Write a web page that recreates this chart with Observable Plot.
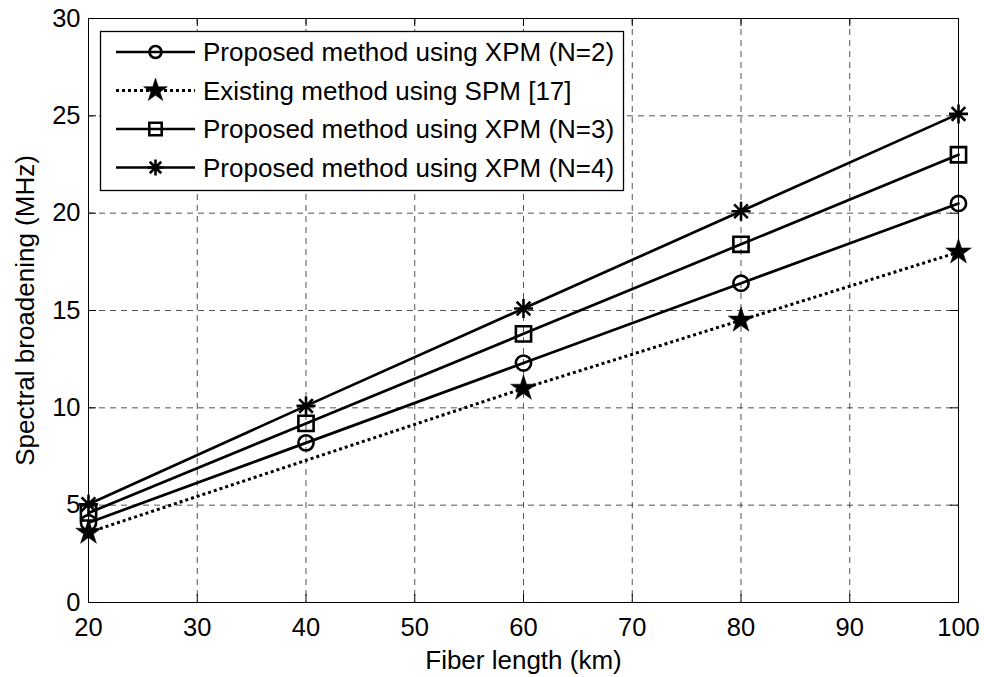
<!DOCTYPE html>
<html><head><meta charset="utf-8">
<script src="https://cdn.jsdelivr.net/npm/d3@7"></script>
<script src="https://cdn.jsdelivr.net/npm/@observablehq/plot@0.6"></script>
<style>html,body{margin:0;padding:0;background:#fff;} #chart{width:984px;height:677px;}</style>
</head><body><div id="chart"></div>
<script>
// ---- data ----
const fiberLength = [20, 40, 60, 80, 100];
const xpmN2 = [4.1, 8.2, 12.3, 16.4, 20.5];
const spmLength = [20, 60, 80, 100];
const spm = [3.6, 11.0, 14.5, 18.0];
const xpmN3 = [4.6, 9.2, 13.8, 18.4, 23.0];
const xpmN4 = [5.05, 10.1, 15.1, 20.1, 25.1];
const seriesNames = [
  "Proposed method using XPM (N=2)",
  "Existing method using SPM [17]",
  "Proposed method using XPM (N=3)",
  "Proposed method using XPM (N=4)"
];
const xTicks = [20, 30, 40, 50, 60, 70, 80, 90, 100];
const yTicks = [0, 5, 10, 15, 20, 25, 30];
const xLabel = "Fiber length (km)";
const yLabel = "Spectral broadening (MHz)";

// ---- marker symbols (MATLAB style) ----
const rad = size => Math.sqrt(size / Math.PI);
const symCircle = {draw(ctx, size){ const r = rad(size); ctx.moveTo(r, 0); ctx.arc(0, 0, r, 0, 2*Math.PI); }};
const symSquare = {draw(ctx, size){ const r = rad(size); ctx.rect(-r, -r, 2*r, 2*r); }};
const symStar = {draw(ctx, size){
  const R = rad(size), ri = R * 0.382;
  for (let i = 0; i < 10; i++) {
    const a = -Math.PI/2 + i*Math.PI/5, rr = i % 2 ? ri : R;
    const px = rr*Math.cos(a), py = rr*Math.sin(a);
    if (i) ctx.lineTo(px, py); else ctx.moveTo(px, py);
  }
  ctx.closePath();
}};
const symAsterisk = {draw(ctx, size){
  const R = rad(size), d = R*0.72;
  ctx.moveTo(-R, 0); ctx.lineTo(R, 0);
  ctx.moveTo(0, -R); ctx.lineTo(0, R);
  ctx.moveTo(-d, -d); ctx.lineTo(d, d);
  ctx.moveTo(-d, d); ctx.lineTo(d, -d);
}};

const toRows = (xs, ys) => xs.map((x, i) => ({x, y: ys[i]}));
const dN2 = toRows(fiberLength, xpmN2);
const dSPM = toRows(spmLength, spm);
const dN3 = toRows(fiberLength, xpmN3);
const dN4 = toRows(fiberLength, xpmN4);

const FONT = "'Liberation Sans', Arial, Helvetica, sans-serif";
const LW = 2.7;
const MW = 2.6;
const FS = 26;

const plot = Plot.plot({
  width: 984, height: 677,
  marginLeft: 88, marginRight: 26, marginTop: 18, marginBottom: 75,
  style: {fontFamily: FONT, background: "white", color: "black"},
  x: {domain: [20, 100]},
  y: {domain: [0, 30]},
  marks: [
    Plot.gridX(xTicks, {stroke: "#000", strokeOpacity: 0.85, strokeWidth: 0.8, strokeDasharray: "6,5"}),
    Plot.gridY(yTicks, {stroke: "#000", strokeOpacity: 0.85, strokeWidth: 0.8, strokeDasharray: "6,5"}),
    // inner ticks on all four sides
    Plot.tickX(xTicks, {x: d => d, stroke: "#000", insetTop: 576}),
    Plot.tickX(xTicks, {x: d => d, stroke: "#000", insetBottom: 576}),
    Plot.tickY(yTicks, {y: d => d, stroke: "#000", insetRight: 862}),
    Plot.tickY(yTicks, {y: d => d, stroke: "#000", insetLeft: 862}),
    Plot.axisX(xTicks, {anchor: "bottom", tickSize: 0, tickPadding: 15, fontSize: 25.5, label: null}),
    Plot.axisY(yTicks, {anchor: "left", tickSize: 0, tickPadding: 8, fontSize: 25.5, label: null}),
    Plot.text([xLabel], {text: d => d, frameAnchor: "bottom", lineAnchor: "bottom", dy: 66, fontSize: FS, fill: "black"}),
    Plot.text([yLabel], {text: d => d, frameAnchor: "left", textAnchor: "middle", rotate: -90, lineAnchor: "bottom", dx: -55, fontSize: FS, fill: "black"}),
    // series
    Plot.line(dN2, {x: "x", y: "y", stroke: "black", strokeWidth: LW}),
    Plot.dot(dN2, {x: "x", y: "y", symbol: symCircle, r: 7.6, stroke: "black", strokeWidth: MW, fill: "none"}),
    Plot.line(dSPM, {x: "x", y: "y", stroke: "black", strokeWidth: LW + 0.3, strokeDasharray: "3,3", strokeLinecap: "butt"}),
    Plot.dot(dSPM, {x: "x", y: "y", symbol: symStar, r: 13.5, fill: "black", stroke: "black", strokeWidth: 0.5}),
    Plot.line(dN3, {x: "x", y: "y", stroke: "black", strokeWidth: LW}),
    Plot.dot(dN3, {x: "x", y: "y", symbol: symSquare, r: 7.6, stroke: "black", strokeWidth: MW, fill: "none"}),
    Plot.line(dN4, {x: "x", y: "y", stroke: "black", strokeWidth: LW}),
    Plot.dot(dN4, {x: "x", y: "y", symbol: symAsterisk, r: 9.5, stroke: "black", strokeWidth: MW, fill: "none"}),
    Plot.frame({stroke: "black", strokeWidth: 1})
  ]
});
document.getElementById("chart").appendChild(plot);

// ---- legend (inside the axes, top-left) ----
const svg = d3.select(plot);
const lg = svg.append("g").attr("font-family", FONT).attr("text-anchor", "start");
const box = {x: 100, y: 31, w: 523, h: 159};
lg.append("rect").attr("x", box.x + 0.5).attr("y", box.y + 0.5).attr("width", box.w).attr("height", box.h)
  .attr("fill", "white").attr("stroke", "black").attr("stroke-width", 1.3);
const legendSpec = [
  {sym: symCircle, size: 6, fill: "none", stroke: "black", dash: null},
  {sym: symStar, size: 12.5, fill: "black", stroke: "black", dash: "3,3"},
  {sym: symSquare, size: 6.2, fill: "none", stroke: "black", dash: null},
  {sym: symAsterisk, size: 8, fill: "none", stroke: "black", dash: null}
];
seriesNames.forEach((name, i) => {
  const cy = 52 + i * 38.5;
  const s = legendSpec[i];
  const row = lg.append("g");
  row.append("line").attr("x1", 116).attr("x2", 195).attr("y1", cy).attr("y2", cy)
    .attr("stroke", "black").attr("stroke-width", s.dash ? LW + 0.3 : LW)
    .attr("stroke-dasharray", s.dash);
  row.append("path").attr("transform", `translate(155.5,${cy})`)
    .attr("d", d3.symbol(s.sym, Math.PI * s.size * s.size)())
    .attr("fill", s.fill).attr("stroke", s.stroke).attr("stroke-width", s.dash ? 0.5 : MW);
  row.append("text").attr("x", 203).attr("y", cy + 9.3).attr("font-size", FS)
    .attr("text-anchor", "start").attr("fill", "black").text(name);
});
</script>
</body></html>
